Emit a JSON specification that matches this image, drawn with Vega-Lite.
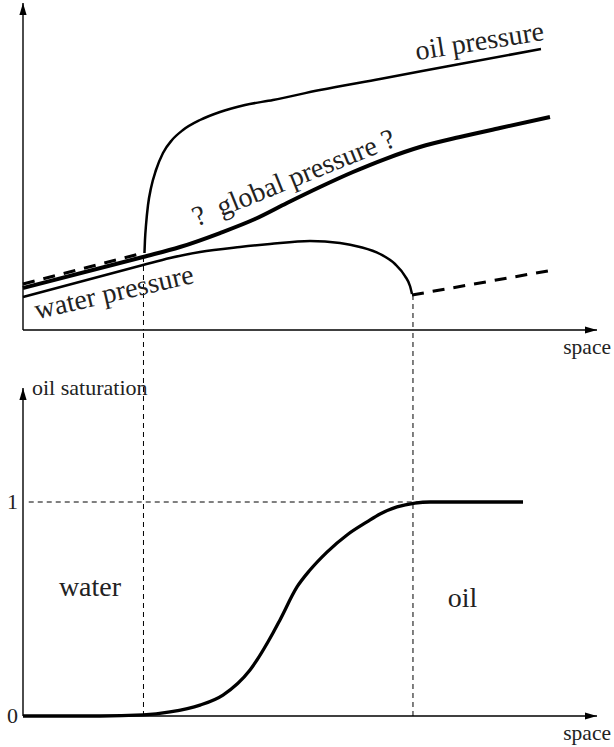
{
  "$schema": "https://vega.github.io/schema/vega-lite/v6.json",
  "width": 614,
  "height": 747,
  "padding": 0,
  "autosize": {"type": "none"},
  "config": {"view": {"stroke": null}, "text": {"font": "Liberation Serif", "color": "#222"}},
  "datasets": {
    "pressure": [
      {"curve": "oil pressure", "i": 1, "x": 2.116, "p": 2.355},
      {"curve": "oil pressure", "i": 2, "x": 2.125, "p": 2.752},
      {"curve": "oil pressure", "i": 3, "x": 2.143, "p": 3.211},
      {"curve": "oil pressure", "i": 4, "x": 2.178, "p": 3.823},
      {"curve": "oil pressure", "i": 5, "x": 2.230, "p": 4.343},
      {"curve": "oil pressure", "i": 6, "x": 2.317, "p": 4.893},
      {"curve": "oil pressure", "i": 7, "x": 2.439, "p": 5.413},
      {"curve": "oil pressure", "i": 8, "x": 2.596, "p": 5.810},
      {"curve": "oil pressure", "i": 9, "x": 2.787, "p": 6.116},
      {"curve": "oil pressure", "i": 10, "x": 3.084, "p": 6.422},
      {"curve": "oil pressure", "i": 11, "x": 3.432, "p": 6.667},
      {"curve": "oil pressure", "i": 12, "x": 3.868, "p": 6.881},
      {"curve": "oil pressure", "i": 13, "x": 4.355, "p": 7.034},
      {"curve": "oil pressure", "i": 14, "x": 5.174, "p": 7.339},
      {"curve": "oil pressure", "i": 15, "x": 6.220, "p": 7.676},
      {"curve": "oil pressure", "i": 16, "x": 7.613, "p": 8.135},
      {"curve": "oil pressure", "i": 17, "x": 9.024, "p": 8.593},
      {"curve": "global pressure", "i": 1, "x": 0, "p": 1.284},
      {"curve": "global pressure", "i": 2, "x": 2.091, "p": 2.232},
      {"curve": "global pressure", "i": 3, "x": 2.735, "p": 2.538},
      {"curve": "global pressure", "i": 4, "x": 3.432, "p": 2.966},
      {"curve": "global pressure", "i": 5, "x": 4.042, "p": 3.394},
      {"curve": "global pressure", "i": 6, "x": 4.599, "p": 3.884},
      {"curve": "global pressure", "i": 7, "x": 5.174, "p": 4.373},
      {"curve": "global pressure", "i": 8, "x": 5.749, "p": 4.832},
      {"curve": "global pressure", "i": 9, "x": 6.307, "p": 5.229},
      {"curve": "global pressure", "i": 10, "x": 6.916, "p": 5.596},
      {"curve": "global pressure", "i": 11, "x": 7.613, "p": 5.902},
      {"curve": "global pressure", "i": 12, "x": 8.310, "p": 6.177},
      {"curve": "global pressure", "i": 13, "x": 9.181, "p": 6.514},
      {"curve": "water pressure", "i": 1, "x": 0, "p": 1.009},
      {"curve": "water pressure", "i": 2, "x": 2.091, "p": 1.988},
      {"curve": "water pressure", "i": 3, "x": 2.561, "p": 2.202},
      {"curve": "water pressure", "i": 4, "x": 3.084, "p": 2.385},
      {"curve": "water pressure", "i": 5, "x": 3.780, "p": 2.538},
      {"curve": "water pressure", "i": 6, "x": 4.303, "p": 2.630},
      {"curve": "water pressure", "i": 7, "x": 5.0, "p": 2.722},
      {"curve": "water pressure", "i": 8, "x": 5.523, "p": 2.661},
      {"curve": "water pressure", "i": 9, "x": 5.871, "p": 2.538},
      {"curve": "water pressure", "i": 10, "x": 6.220, "p": 2.324},
      {"curve": "water pressure", "i": 11, "x": 6.481, "p": 2.018},
      {"curve": "water pressure", "i": 12, "x": 6.655, "p": 1.651},
      {"curve": "water pressure", "i": 13, "x": 6.742, "p": 1.346},
      {"curve": "water pressure", "i": 14, "x": 6.777, "p": 1.101},
      {"curve": "oil pressure (extended)", "i": 1, "x": 0, "p": 1.407},
      {"curve": "oil pressure (extended)", "i": 2, "x": 2.091, "p": 2.355},
      {"curve": "water pressure (extended)", "i": 1, "x": 6.777, "p": 1.070},
      {"curve": "water pressure (extended)", "i": 2, "x": 9.233, "p": 1.835}
    ],
    "saturation": [
      {"i": 1, "x": 0, "s": 0},
      {"i": 2, "x": 1.341, "s": 0},
      {"i": 3, "x": 2.091, "s": 0.005},
      {"i": 4, "x": 2.561, "s": 0.019},
      {"i": 5, "x": 3.084, "s": 0.051},
      {"i": 6, "x": 3.484, "s": 0.098},
      {"i": 7, "x": 3.955, "s": 0.215},
      {"i": 8, "x": 4.355, "s": 0.388},
      {"i": 9, "x": 4.477, "s": 0.449},
      {"i": 10, "x": 4.774, "s": 0.603},
      {"i": 11, "x": 5.0, "s": 0.682},
      {"i": 12, "x": 5.296, "s": 0.766},
      {"i": 13, "x": 5.645, "s": 0.846},
      {"i": 14, "x": 5.993, "s": 0.907},
      {"i": 15, "x": 6.220, "s": 0.944},
      {"i": 16, "x": 6.516, "s": 0.977},
      {"i": 17, "x": 6.829, "s": 0.995},
      {"i": 18, "x": 7.091, "s": 1.0},
      {"i": 19, "x": 8.711, "s": 1.0}
    ]
  },
  "layer": [
    {
      "encoding": {
        "x": {"field": "x", "type": "quantitative", "scale": {"domain": [-0.4007, 10.2962], "nice": false, "zero": false}, "axis": null},
        "y": {"field": "p", "type": "quantitative", "scale": {"domain": [-12.7523, 10.0917], "nice": false, "zero": false}, "axis": null}
      },
      "layer": [
        {
          "data": {"values": [{"x": 0, "x2": 10, "p": 0}]},
          "mark": {"type": "rule", "color": "black", "strokeWidth": 1.4},
          "encoding": {"x2": {"field": "x2"}}
        },
        {
          "data": {"values": [{"x": 0, "p": 0, "p2": 10}]},
          "mark": {"type": "rule", "color": "black", "strokeWidth": 1.4},
          "encoding": {"y2": {"field": "p2"}}
        },
        {
          "data": {"values": [{"x": 10, "p": 0}]},
          "mark": {"type": "point", "shape": "M0,0L-2,-0.6L-2,0.6Z", "size": 144, "filled": true, "color": "black", "opacity": 1}
        },
        {
          "data": {"values": [{"x": 0, "p": 10}]},
          "mark": {"type": "point", "shape": "M0,0L0.6,2L-0.6,2Z", "size": 144, "filled": true, "color": "black", "opacity": 1}
        },
        {
          "data": {"values": [{"x": 2.099, "p": 2.232, "p2": 0}, {"x": 6.794, "p": 1.070, "p2": 0}]},
          "mark": {"type": "rule", "color": "black", "strokeWidth": 1, "strokeDash": [5, 4]},
          "encoding": {"y2": {"field": "p2"}}
        },
        {
          "data": {"name": "pressure"},
          "transform": [{"filter": "datum.curve === 'oil pressure'"}],
          "mark": {"type": "line", "interpolate": "monotone", "color": "black", "strokeWidth": 2.5},
          "encoding": {"order": {"field": "i", "type": "quantitative"}}
        },
        {
          "data": {"name": "pressure"},
          "transform": [{"filter": "datum.curve === 'global pressure'"}],
          "mark": {"type": "line", "interpolate": "monotone", "color": "black", "strokeWidth": 4},
          "encoding": {"order": {"field": "i", "type": "quantitative"}}
        },
        {
          "data": {"name": "pressure"},
          "transform": [{"filter": "datum.curve === 'water pressure'"}],
          "mark": {"type": "line", "interpolate": "monotone", "color": "black", "strokeWidth": 2.5},
          "encoding": {"order": {"field": "i", "type": "quantitative"}}
        },
        {
          "data": {"name": "pressure"},
          "transform": [{"filter": "datum.curve === 'oil pressure (extended)'"}],
          "mark": {"type": "line", "color": "black", "strokeWidth": 3, "strokeDash": [12, 9]},
          "encoding": {"order": {"field": "i", "type": "quantitative"}}
        },
        {
          "data": {"name": "pressure"},
          "transform": [{"filter": "datum.curve === 'water pressure (extended)'"}],
          "mark": {"type": "line", "color": "black", "strokeWidth": 3, "strokeDash": [12, 9]},
          "encoding": {"order": {"field": "i", "type": "quantitative"}}
        },
        {
          "data": {"values": [{"label": "oil pressure", "x": 7.979, "p": 8.563}]},
          "mark": {"type": "text", "font": "Liberation Serif", "fontSize": 28, "angle": -9, "align": "center", "baseline": "alphabetic"},
          "encoding": {"text": {"field": "label"}}
        },
        {
          "data": {"values": [{"label": "? \u00a0global pressure ?", "x": 4.774, "p": 4.404}]},
          "mark": {"type": "text", "font": "Liberation Serif", "fontSize": 28, "angle": -22, "align": "center", "baseline": "alphabetic"},
          "encoding": {"text": {"field": "label"}}
        },
        {
          "data": {"values": [{"label": "water pressure", "x": 1.62, "p": 0.887}]},
          "mark": {"type": "text", "font": "Liberation Serif", "fontSize": 28, "angle": -13, "align": "center", "baseline": "alphabetic"},
          "encoding": {"text": {"field": "label"}}
        },
        {
          "data": {"values": [{"label": "space", "x": 10.244, "p": -0.734}]},
          "mark": {"type": "text", "font": "Liberation Serif", "fontSize": 21.5, "align": "right", "baseline": "alphabetic"},
          "encoding": {"text": {"field": "label"}}
        }
      ]
    },
    {
      "encoding": {
        "x": {"field": "x", "type": "quantitative", "scale": {"domain": [-0.4007, 10.2962], "nice": false, "zero": false}, "axis": null},
        "y": {"field": "s", "type": "quantitative", "scale": {"domain": [-0.14486, 3.3458], "nice": false, "zero": false}, "axis": null}
      },
      "layer": [
        {
          "data": {"values": [{"x": 0, "x2": 10, "s": 0}]},
          "mark": {"type": "rule", "color": "black", "strokeWidth": 1.4},
          "encoding": {"x2": {"field": "x2"}}
        },
        {
          "data": {"values": [{"x": 0, "s": 0, "s2": 1.5327}]},
          "mark": {"type": "rule", "color": "black", "strokeWidth": 1.4},
          "encoding": {"y2": {"field": "s2"}}
        },
        {
          "data": {"values": [{"x": 10, "s": 0}]},
          "mark": {"type": "point", "shape": "M0,0L-2,-0.6L-2,0.6Z", "size": 144, "filled": true, "color": "black", "opacity": 1}
        },
        {
          "data": {"values": [{"x": 0, "s": 1.5327}]},
          "mark": {"type": "point", "shape": "M0,0L0.6,2L-0.6,2Z", "size": 144, "filled": true, "color": "black", "opacity": 1}
        },
        {
          "data": {"values": [{"x": 2.099, "s": 0, "s2": 1.804}, {"x": 6.794, "s": 0, "s2": 1.804}]},
          "mark": {"type": "rule", "color": "black", "strokeWidth": 1, "strokeDash": [5, 4]},
          "encoding": {"y2": {"field": "s2"}}
        },
        {
          "data": {"values": [{"x": 0.1, "x2": 7.003, "s": 1}]},
          "mark": {"type": "rule", "color": "black", "strokeWidth": 1, "strokeDash": [5, 4]},
          "encoding": {"x2": {"field": "x2"}}
        },
        {
          "data": {"name": "saturation"},
          "mark": {"type": "line", "interpolate": "monotone", "color": "black", "strokeWidth": 3.3},
          "encoding": {"order": {"field": "i", "type": "quantitative"}}
        },
        {
          "data": {"values": [{"label": "oil saturation", "x": 0.157, "s": 1.5}]},
          "mark": {"type": "text", "font": "Liberation Serif", "fontSize": 22, "align": "left", "baseline": "alphabetic"},
          "encoding": {"text": {"field": "label"}}
        },
        {
          "data": {"values": [{"label": "1", "x": -0.087, "s": 1}, {"label": "0", "x": -0.087, "s": 0}]},
          "mark": {"type": "text", "font": "Liberation Serif", "fontSize": 22, "align": "right", "baseline": "middle"},
          "encoding": {"text": {"field": "label"}}
        },
        {
          "data": {"values": [{"label": "water", "x": 1.167, "s": 0.561}, {"label": "oil", "x": 7.657, "s": 0.509}]},
          "mark": {"type": "text", "font": "Liberation Serif", "fontSize": 28, "align": "center", "baseline": "alphabetic"},
          "encoding": {"text": {"field": "label"}}
        },
        {
          "data": {"values": [{"label": "space", "x": 10.244, "s": -0.112}]},
          "mark": {"type": "text", "font": "Liberation Serif", "fontSize": 21.5, "align": "right", "baseline": "alphabetic"},
          "encoding": {"text": {"field": "label"}}
        }
      ]
    }
  ],
  "resolve": {"scale": {"y": "independent"}}
}
